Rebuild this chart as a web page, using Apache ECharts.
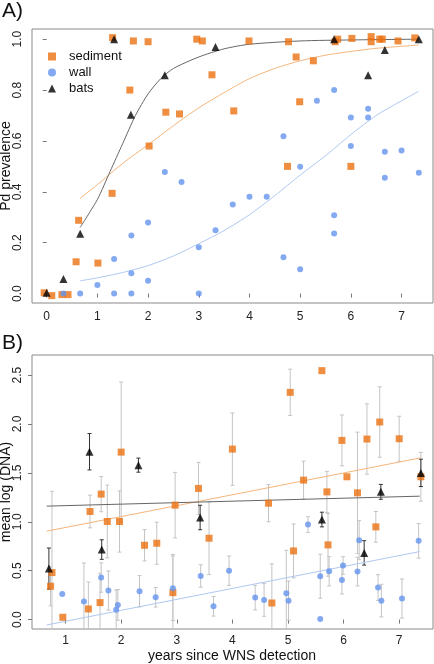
<!DOCTYPE html>
<html><head><meta charset="utf-8">
<script src="https://cdn.jsdelivr.net/npm/echarts@6/dist/echarts.min.js"></script>
<style>html,body{margin:0;padding:0;background:#fff}#c{width:434px;height:664px}</style>
</head><body><div id="c"></div>
<script>
// ---------- Panel A: prevalence ----------
const sedA = [[-0.05,0.003],[0.1,-0.008],[0.3,-0.004],[0.42,-0.004],[0.58,0.125],[0.63,0.288],[1.01,0.12],[1.29,0.394],[1.30,1.006],[1.64,0.80],[1.71,0.993],[2.0,0.99],[2.02,0.58],[2.35,0.713],[2.62,0.706],[2.96,1.0],[3.07,0.993],[3.26,0.86],[3.69,0.718],[3.99,0.993],[4.75,0.50],[4.77,0.99],[4.92,0.93],[4.99,0.754],[5.26,0.915],[5.69,0.99],[5.74,1.0],[6.0,0.50],[6.02,1.003],[6.4,1.01],[6.4,0.99],[6.57,1.0],[6.62,1.0],[6.93,0.993],[7.26,1.005]];
const wallA = [[0.33,0],[0.66,0],[1.0,0.034],[1.33,0.136],[1.33,0],[1.67,0.228],[1.67,0.08],[1.67,0],[2.0,0.279],[2.0,0.05],[2.33,0.478],[2.66,0.439],[3.0,0.182],[3.0,0],[3.33,0.249],[3.67,0.35],[4.0,0.381],[4.34,0.381],[4.67,0.618],[4.67,0.143],[5.0,0.499],[5.0,0.096],[5.33,0.758],[5.67,0.80],[5.67,0.308],[5.67,0.236],[6.0,0.692],[6.0,0.58],[6.34,0.727],[6.34,0.692],[6.67,0.558],[6.67,0.455],[7.0,0.562],[7.34,0.475]];
const batsA = [[0,0.003],[0.33,0.057],[0.66,0.235],[1.33,1.0],[1.66,0.703],[2.33,0.858],[3.33,0.969],[5.67,1.0],[6.34,0.858],[6.67,0.957],[7.34,1.0]];
const fitSedA = [[0.66,0.375],[1.0,0.428],[1.5,0.512],[2.0,0.585],[2.5,0.66],[3.0,0.73],[3.5,0.79],[4.0,0.845],[4.5,0.885],[5.0,0.915],[5.5,0.937],[6.0,0.952],[6.5,0.964],[7.33,0.977]];
const fitWallA = [[0.66,0.05],[1.0,0.062],[1.5,0.083],[2.0,0.11],[2.5,0.148],[3.0,0.196],[3.5,0.248],[4.0,0.31],[4.5,0.385],[5.0,0.466],[5.5,0.542],[6.0,0.625],[6.5,0.7],[7.0,0.758],[7.33,0.794]];
const fitBatsA = [[0.66,0.26],[1.0,0.37],[1.25,0.48],[1.5,0.59],[1.75,0.7],[2.0,0.785],[2.25,0.845],[2.5,0.885],[3.0,0.93],[3.5,0.962],[4.0,0.98],[5.0,0.993],[6.0,0.997],[7.34,1.0]];
const ticksAx = [0,1,2,3,4,5,6,7];
const ticksAy = [0,0.2,0.4,0.6,0.8,1.0];

// ---------- Panel B: mean log DNA  [x, mean, halfwidth] ----------
const sedB = [[0.73,0.341,0.2],[0.755,0.481,0.83],[0.95,0.024,0],[1.41,0.109,0.276],[1.44,1.105,0.167],[1.62,0.174,0.3],[1.64,1.283,0.18],[1.75,1.003,0.372],[1.97,1.003,0.313],[2.0,1.712,0.717],[2.42,0.76,0.16],[2.64,0.781,0.215],[2.93,0.276,0.39],[2.97,1.17,0.335],[3.39,1.341,0.266],[3.58,0.832,0.372],[4.0,1.743,0.37],[4.65,1.19,0.19],[4.71,0.17,0.40],[5.04,2.323,0.237],[5.10,0.702,0.276],[5.28,1.426,0.194],[5.61,2.545,0],[5.70,1.306,0.21],[5.72,0.764,0.32],[5.97,1.832,0.26],[6.06,1.46,0],[6.25,1.296,0.62],[6.42,1.846,0.36],[6.58,0.948,0.157],[6.65,2.02,0.36],[7.0,1.849,0.23],[7.39,1.46,0.25]];
const wallB = [[0.94,0.262,0],[1.33,0.184,0.395],[1.64,0.43,0.15],[1.77,0.297,0.2],[1.91,0.102,0.2],[1.94,0.15,0.157],[2.33,0.29,0.16],[2.62,0.228,0.10],[2.93,0.32,0.33],[3.43,0.446,0.115],[3.66,0.136,0.10],[3.94,0.50,0.15],[4.41,0.225,0.126],[4.57,0.201,0.167],[4.97,0.269,0.44],[5.01,0.194,0.2],[5.36,0.972,0.08],[5.58,0.443,0.225],[5.58,0.006,0],[5.74,0.494,0.15],[5.97,0.405,0.143],[5.99,0.553,0.09],[6.25,0.491,0.147],[6.28,0.812,0.2],[6.62,0.328,0.132],[6.68,0.194,0.167],[7.05,0.215,0.2],[7.35,0.805,0.177]];
const batsB = [[0.70,0.522,0.21],[1.43,1.716,0.186],[1.65,0.716,0.10],[2.31,1.579,0.072],[3.42,1.044,0.125],[5.61,1.023,0.075],[6.37,0.682,0.125],[6.67,1.306,0.076],[7.39,1.50,0.14]];
const lineSedB = [[0.66,0.904],[7.39,1.654]];
const lineWallB = [[0.66,-0.055],[7.37,0.696]];
const lineBatsB = [[0.66,1.16],[7.37,1.262]];
const ticksBx = [1,2,3,4,5,6,7];
const ticksBy = [0,0.5,1.0,1.5,2.0,2.5];

const ORANGE = '#EB7010', BLUE = '#6495ED', BLACK = '#000000';
const FONT = 'Liberation Sans, Arial, sans-serif';
const B_YMIN = -0.096, B_YMAX = 2.705;

function errData(arr){ return arr.filter(d => d[2] > 0).map(d => [d[0], d[1]-d[2], d[1]+d[2]]); }
function errSeries(arr, color, name){
  return {
    type:'custom', name:name, xAxisIndex:1, yAxisIndex:1, silent:true, z:1,
    data: errData(arr),
    renderItem: function(params, api){
      const x = api.value(0);
      let lo = api.value(1), hi = api.value(2);
      const loClip = lo < B_YMIN, hiClip = hi > B_YMAX;
      lo = Math.max(lo, B_YMIN); hi = Math.min(hi, B_YMAX);
      const p1 = api.coord([x, hi]), p2 = api.coord([x, lo]);
      const st = {stroke: color, lineWidth: 1};
      const ch = [{type:'line', shape:{x1:p1[0], y1:p1[1], x2:p2[0], y2:p2[1]}, style: st}];
      if (!hiClip) ch.push({type:'line', shape:{x1:p1[0]-2, y1:p1[1], x2:p1[0]+2, y2:p1[1]}, style: st});
      if (!loClip) ch.push({type:'line', shape:{x1:p2[0]-2, y1:p2[1], x2:p2[0]+2, y2:p2[1]}, style: st});
      return {type:'group', children: ch};
    }
  };
}
function valAxis(min, max, ticks, isY, gridIndex, margin){
  return {
    type:'value', gridIndex: gridIndex, min:min, max:max,
    axisLine:{show:false},
    splitLine:{show:false},
    axisTick:{show:true, length:4, inside:false, customValues: ticks, lineStyle:{color:'#777'}},
    axisLabel:{show:true, customValues: ticks, rotate: isY ? 90 : 0, margin: margin,
      color:'#222', fontSize:12, fontFamily: FONT,
      formatter: isY ? (v => Number(v).toFixed(1)) : (v => String(Math.round(v)))}
  };
}

const chart = echarts.init(document.getElementById('c'), null, {renderer:'canvas'});
chart.setOption({
  animation:false,
  backgroundColor:'#fff',
  textStyle:{fontFamily: FONT},
  grid:[
    {left:32, top:29, width:401, height:274, show:true, borderColor:'#8a8a8a', borderWidth:1, backgroundColor:'transparent'},
    {left:32, top:355, width:401, height:274, show:true, borderColor:'#8a8a8a', borderWidth:1, backgroundColor:'transparent'}
  ],
  xAxis:[
    valAxis(-0.29, 7.62, ticksAx, false, 0, 8),
    valAxis(0.396, 7.608, ticksBx, false, 1, 6)
  ],
  yAxis:[
    valAxis(-0.037, 1.04, ticksAy, true, 0, 8),
    valAxis(B_YMIN, B_YMAX, ticksBy, true, 1, 8)
  ],
  legend:{
    orient:'vertical', left:43, top:45, itemWidth:8, itemHeight:8, itemGap:3,
    textStyle:{fontSize:13, color:'#111', fontFamily: FONT, padding:[0,0,0,8]},
    data:[{name:'sediment', icon:'rect'},{name:'wall', icon:'circle'},{name:'bats', icon:'triangle'}],
    selectedMode:false
  },
  graphic:[
    {type:'text', left:2, top:1, style:{text:'A)', fontSize:21, fontFamily: FONT, fill:'#111'}},
    {type:'text', left:2, top:333, style:{text:'B)', fontSize:21, fontFamily: FONT, fill:'#111'}},
    {type:'text', x:6, y:166, rotation:Math.PI/2, style:{text:'Pd prevalence', fontSize:14, fontFamily: FONT, fill:'#111', align:'center', verticalAlign:'middle'}},
    {type:'text', x:6, y:492, rotation:Math.PI/2, style:{text:'mean log (DNA)', fontSize:14, fontFamily: FONT, fill:'#111', align:'center', verticalAlign:'middle'}},
    {type:'text', x:232, y:656, style:{text:'years since WNS detection', fontSize:14, fontFamily: FONT, fill:'#111', align:'center', verticalAlign:'middle'}}
  ],
  series:[
    {type:'line', name:'fitSedA', xAxisIndex:0, yAxisIndex:0, data:fitSedA, smooth:0.25, showSymbol:false, silent:true, lineStyle:{color:'#F4B57C', width:1}, z:1},
    {type:'line', name:'fitWallA', xAxisIndex:0, yAxisIndex:0, data:fitWallA, smooth:0.25, showSymbol:false, silent:true, lineStyle:{color:'#AFC8F2', width:1}, z:1},
    {type:'line', name:'fitBatsA', xAxisIndex:0, yAxisIndex:0, data:fitBatsA, smooth:0.25, showSymbol:false, silent:true, lineStyle:{color:'#666666', width:1}, z:1},
    {type:'scatter', name:'sediment', xAxisIndex:0, yAxisIndex:0, data:sedA, symbol:'rect', symbolSize:7, itemStyle:{color:ORANGE}, z:3},
    {type:'scatter', name:'wall', xAxisIndex:0, yAxisIndex:0, data:wallA, symbol:'circle', symbolSize:6, itemStyle:{color:BLUE}, z:3},
    {type:'scatter', name:'bats', xAxisIndex:0, yAxisIndex:0, data:batsA, symbol:'triangle', symbolSize:8, itemStyle:{color:BLACK}, z:3},

    errSeries(sedB, '#C4C4C4', 'errSed'),
    errSeries(wallB, '#C4C4C4', 'errWall'),
    errSeries(batsB, '#333333', 'errBats'),
    {type:'line', name:'lineSedB', xAxisIndex:1, yAxisIndex:1, data:lineSedB, showSymbol:false, silent:true, lineStyle:{color:'#F4B57C', width:1}, z:2},
    {type:'line', name:'lineWallB', xAxisIndex:1, yAxisIndex:1, data:lineWallB, showSymbol:false, silent:true, lineStyle:{color:'#AFC8F2', width:1}, z:2},
    {type:'line', name:'lineBatsB', xAxisIndex:1, yAxisIndex:1, data:lineBatsB, showSymbol:false, silent:true, lineStyle:{color:'#666666', width:1}, z:2},
    {type:'scatter', name:'sediment', xAxisIndex:1, yAxisIndex:1, data:sedB.map(d=>[d[0],d[1]]), symbol:'rect', symbolSize:7, itemStyle:{color:ORANGE}, z:3},
    {type:'scatter', name:'wall', xAxisIndex:1, yAxisIndex:1, data:wallB.map(d=>[d[0],d[1]]), symbol:'circle', symbolSize:6, itemStyle:{color:BLUE}, z:3},
    {type:'scatter', name:'bats', xAxisIndex:1, yAxisIndex:1, data:batsB.map(d=>[d[0],d[1]]), symbol:'triangle', symbolSize:8, itemStyle:{color:BLACK}, z:3}
  ]
});
</script></body></html>
